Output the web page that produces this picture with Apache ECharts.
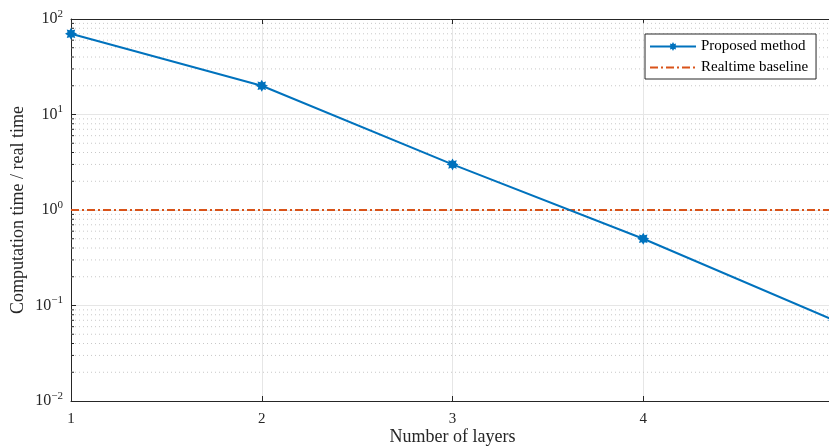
<!DOCTYPE html>
<html><head><meta charset="utf-8">
<script src="https://cdn.jsdelivr.net/npm/echarts@6/dist/echarts.min.js"></script>
<style>html,body{margin:0;padding:0;background:#fff}#c{width:829px;height:448px}</style>
</head><body><div id="c"></div>
<script>
const layers = [1, 2, 3, 4, 5];
const proposed = [70, 20, 3, 0.5, 0.07];
const baseline = [1, 1, 1, 1, 1];
const xTickLabels = ['1', '2', '3', '4', ''];
const minorValues = [];
[-2, -1, 0, 1].forEach(function (k) { for (let m = 2; m <= 9; m++) minorValues.push(+(m * Math.pow(10, k)).toPrecision(3)); });

const FONT = '"Liberation Serif", "DejaVu Serif", serif';
const BLUE = '#0072BD', ORANGE = '#D95319', AX = '#262626';

let sp = '';
for (let i = 0; i < 16; i++) {
  const a = i * Math.PI / 8 - Math.PI / 2, r = (i % 2 === 0) ? 1 : 0.62;
  sp += (i === 0 ? 'M' : 'L') + (r * Math.cos(a)).toFixed(3) + ',' + (r * Math.sin(a)).toFixed(3) + ' ';
}
sp += 'Z';

function logLabel(v) {
  const e = Math.round(Math.log10(v));
  return '{b|10}{s|' + String(e).replace('-', '−') + '}';
}

const chart = echarts.init(document.getElementById('c'), null, {renderer: 'canvas'});
chart.setOption({
  animation: false,
  textStyle: {fontFamily: FONT},
  grid: {left: 71, top: 19, bottom: 47, right: -5, show: false, outerBoundsMode: 'none', containLabel: false},
  legend: {
    left: 645, top: 34, orient: 'vertical', itemWidth: 46, itemHeight: 11, itemGap: 6,
    borderColor: AX, borderWidth: 1, backgroundColor: '#fff', padding: [5, 8, 4, 4], borderRadius: 0,
    textStyle: {fontFamily: FONT, fontSize: 15, color: '#000'},
    data: ['Proposed method', {name: 'Realtime baseline', itemStyle: {opacity: 0}}]
  },
  xAxis: [{
    type: 'value', min: 1, max: 5, interval: 1,
    name: 'Number of layers', nameLocation: 'middle', nameGap: 36, nameMoveOverlap: false,
    nameTextStyle: {fontFamily: FONT, fontSize: 18, color: '#262626', verticalAlign: 'middle'},
    axisLine: {lineStyle: {color: AX, width: 1}},
    axisTick: {inside: true, length: 5, lineStyle: {color: AX}},
    axisLabel: {fontFamily: FONT, fontSize: 15, color: AX, margin: 11,
      formatter: function (v) { return xTickLabels[layers.indexOf(v)] || ''; }},
    splitLine: {show: true, lineStyle: {color: '#e6e6e6', width: 1}}
  }, {
    type: 'value', min: 1, max: 5, interval: 1, position: 'top',
    axisLine: {show: true, lineStyle: {color: AX, width: 1}},
    axisTick: {show: true, inside: true, length: 5, lineStyle: {color: AX}},
    axisLabel: {show: false}, splitLine: {show: false}
  }],
  yAxis: [{
    type: 'log', logBase: 10, min: 0.01, max: 100,
    name: 'Computation time / real time', nameLocation: 'middle', nameGap: 44, nameMoveOverlap: false,
    nameTextStyle: {fontFamily: FONT, fontSize: 18, color: '#262626'},
    axisLine: {show: true, lineStyle: {color: AX, width: 1}},
    axisTick: {inside: true, length: 5, lineStyle: {color: AX}},
    axisLabel: {margin: 8, formatter: logLabel, rich: {
      b: {fontFamily: FONT, fontSize: 16, color: AX},
      s: {fontFamily: FONT, fontSize: 11, color: AX, padding: [0, 0, 10, 0]}
    }},
    splitLine: {show: true, lineStyle: {color: '#e6e6e6', width: 1}}
  }, {
    type: 'log', logBase: 10, min: 0.01, max: 100, position: 'right',
    axisLine: {show: true, lineStyle: {color: AX, width: 1}},
    axisTick: {show: true, inside: true, length: 5, lineStyle: {color: AX}},
    axisLabel: {show: false}, splitLine: {show: false}
  }],
  series: [{
    type: 'custom', silent: true, z: 1, xAxisIndex: 0, yAxisIndex: 0,
    data: minorValues.map(function (v) { return [1, v]; }),
    encode: {x: 0, y: 1},
    renderItem: function (params, api) {
      const p = api.coord([1, api.value(1)]);
      const cs = params.coordSys;
      return {type: 'group', children: [
        {type: 'line', shape: {x1: cs.x, y1: p[1], x2: cs.x + cs.width, y2: p[1]},
          style: {stroke: '#c8c8c8', lineWidth: 1, lineDash: [1, 3]}},
        {type: 'line', shape: {x1: cs.x, y1: p[1], x2: cs.x + 3, y2: p[1]}, style: {stroke: AX, lineWidth: 1}},
        {type: 'line', shape: {x1: cs.x + cs.width - 3, y1: p[1], x2: cs.x + cs.width, y2: p[1]}, style: {stroke: AX, lineWidth: 1}}
      ]};
    }
  }, {
    name: 'Realtime baseline', type: 'line', z: 3,
    data: layers.map(function (x, i) { return [x, baseline[i]]; }),
    showSymbol: false, symbol: 'none',
    lineStyle: {color: ORANGE, width: 2, type: [8, 3, 2, 3]},
    itemStyle: {color: ORANGE}
  }, {
    name: 'Proposed method', type: 'line', z: 4,
    data: layers.map(function (x, i) { return [x, proposed[i]]; }),
    symbol: 'path://' + sp, symbolSize: 12, showSymbol: true,
    lineStyle: {color: BLUE, width: 2},
    itemStyle: {color: BLUE}
  }]
});
</script></body></html>
